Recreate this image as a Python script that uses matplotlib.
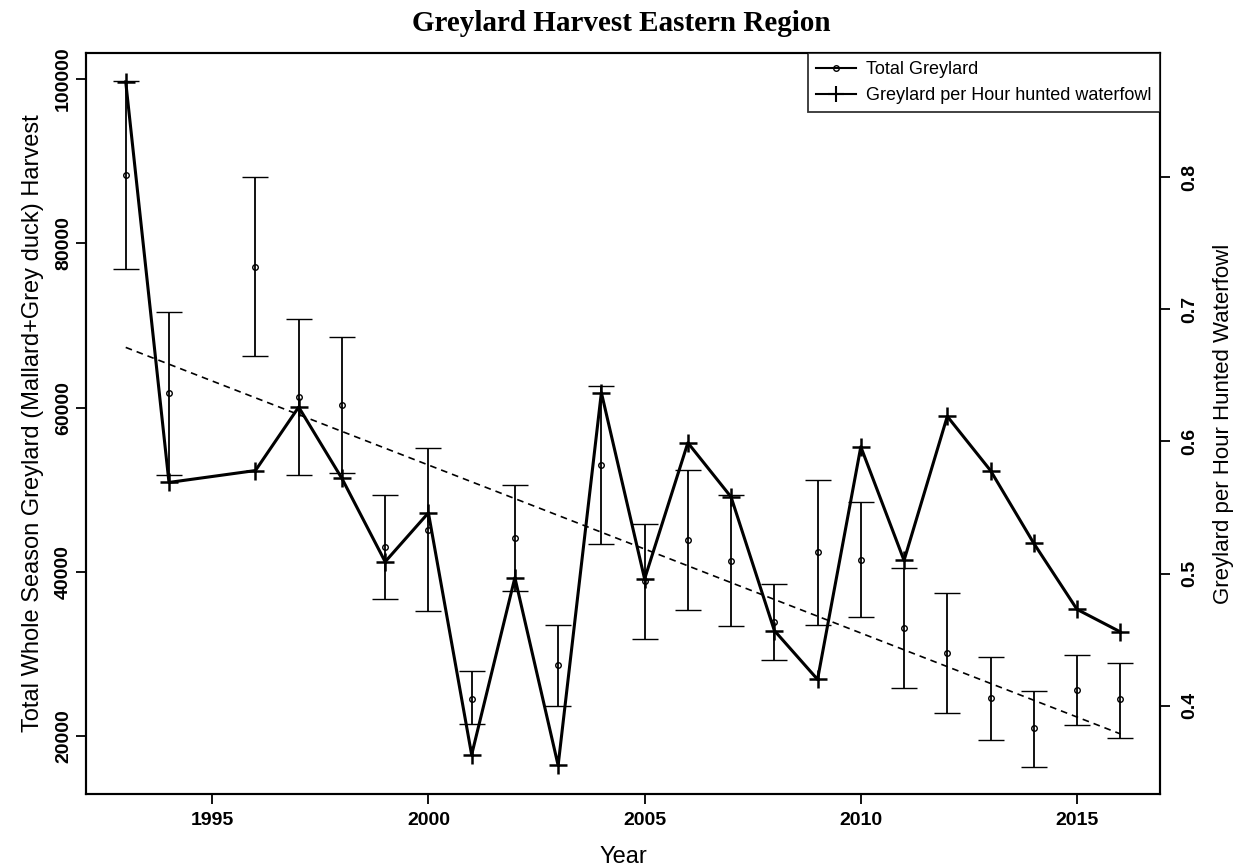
import numpy as np
import matplotlib.pyplot as plt
from matplotlib.lines import Line2D

plt.rcParams['font.family'] = ['Liberation Sans', 'DejaVu Sans']

# total greylard harvest with error bar limits (no survey in 1995)
years = [1993, 1994, 1996, 1997, 1998, 1999, 2000, 2001, 2002, 2003, 2004, 2005,
         2006, 2007, 2008, 2009, 2010, 2011, 2012, 2013, 2014, 2015, 2016]
total = [88340, 61800, 77190, 61310, 60335, 43070, 45170, 24580, 44080, 28630, 52990, 38890,
         43870, 41320, 33950, 42410, 41520, 33130, 30090, 24620, 21060, 25590, 24500]
total_hi = [99770, 71680, 88130, 70830, 68555, 49340, 55100, 27900, 50560, 33500, 62700, 45900,
            52470, 49340, 38600, 51170, 48490, 40470, 37470, 29640, 25510, 29850, 28960]
total_lo = [76840, 51860, 66245, 51860, 52070, 36660, 35280, 21540, 37670, 23690, 43350, 31800,
            35360, 33410, 29290, 33580, 34470, 25880, 22800, 19510, 16310, 21370, 19840]

# greylard per hour hunted waterfowl
rate = [0.872, 0.569, 0.578, 0.626, 0.572, 0.509, 0.546, 0.363, 0.497, 0.355, 0.637, 0.496,
        0.599, 0.558, 0.457, 0.420, 0.596, 0.510, 0.619, 0.578, 0.523, 0.473, 0.456]

yrs = np.array(years)
tot = np.array(total)
err = [tot - np.array(total_lo), np.array(total_hi) - tot]

# linear trend of the total harvest
coef = np.polyfit(yrs, tot, 1)
trend = np.polyval(coef, yrs)

fig = plt.figure(figsize=(12.42, 8.68), dpi=100)
ax = fig.add_axes([0.0692, 0.0855, 0.8648, 0.8534])
ax2 = ax.twinx()

ax.errorbar(yrs, tot, yerr=err, fmt='o', color='black', mfc='none', ms=4, mew=1,
            elinewidth=1.3, capsize=9.5, capthick=1.3, zorder=3)
ax.plot(yrs, trend, color='black', lw=1.2, dashes=(4, 3), zorder=2)

ax2.plot(yrs, rate, color='black', lw=2.2, marker='+', ms=13, mew=1.8, zorder=4)

ax.set_xlim(1992.08, 2016.92)
ax.set_ylim(13000, 103180)
ax2.set_ylim(0.3335, 0.8938)

ax.set_xticks([1995, 2000, 2005, 2010, 2015])
ax.set_yticks([20000, 40000, 60000, 80000, 100000])
ax2.set_yticks([0.4, 0.5, 0.6, 0.7, 0.8])
ax2.set_yticklabels(['0.4', '0.5', '0.6', '0.7', '0.8'])

for a in (ax, ax2):
    for s in a.spines.values():
        s.set_linewidth(1.5)
    a.tick_params(length=7, width=1.3, labelsize=14)

ax.tick_params(axis='x', pad=6)
for lab in ax.get_xticklabels():
    lab.set_fontweight('bold')
ax.tick_params(axis='y', pad=3)
for lab in ax.get_yticklabels():
    lab.set_fontweight('bold')
    lab.set_rotation(90)
    lab.set_va('center')
ax2.tick_params(axis='y', pad=8)
for lab in ax2.get_yticklabels():
    lab.set_fontweight('bold')
    lab.set_rotation(90)
    lab.set_va('center')

ax.set_xlabel('Year', fontsize=17, labelpad=12)
ax.set_ylabel('Total Whole Season Greylard (Mallard+Grey duck) Harvest', fontsize=17, labelpad=8)
ax2.set_ylabel('Greylard per Hour Hunted Waterfowl', fontsize=16, labelpad=11)

fig.suptitle('Greylard Harvest Eastern Region', fontsize=21, fontweight='bold',
             family=['Liberation Serif', 'DejaVu Serif'], y=0.988)

handles = [Line2D([], [], color='black', lw=1.5, marker='o', mfc='none', ms=4),
           Line2D([], [], color='black', lw=1.5, marker='+', ms=12, mew=1.5)]
leg = ax2.legend(handles, ['Total Greylard', 'Greylard per Hour hunted waterfowl'],
                 loc='upper right', fontsize=13, frameon=True, fancybox=False,
                 borderaxespad=0, handlelength=2.2, handletextpad=0.6,
                 labelspacing=0.5, borderpad=0.45)
leg.get_frame().set_edgecolor('black')
leg.get_frame().set_linewidth(1.3)

fig.savefig('out.png', dpi=100)
